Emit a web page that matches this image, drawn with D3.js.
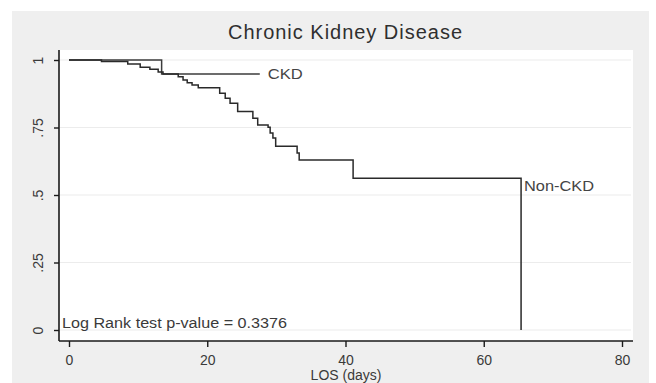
<!DOCTYPE html>
<html>
<head>
<meta charset="utf-8">
<script src="https://cdn.jsdelivr.net/npm/d3@7"></script>
<style>
  html, body { margin: 0; padding: 0; background: #ffffff; }
  svg { display: block; font-family: "Liberation Sans", Arial, sans-serif; }
</style>
</head>
<body>
<svg id="chart" width="656" height="383"></svg>
<script>
// Kaplan-Meier survival estimates by group (time in days, survival proportion)
const nonCkdTimes = [0, 4.7, 8.5, 10.3, 11.7, 12.9, 13.6, 15.8, 16.5, 17.1, 17.8, 18.7, 21.8, 22.6, 23.3, 24.4, 26.6, 27.3, 28.8, 29.1, 29.5, 29.9, 33.0, 33.3, 41.1, 65.4];
const nonCkdSurv  = [1, 0.994, 0.985, 0.973, 0.966, 0.956, 0.948, 0.938, 0.926, 0.916, 0.907, 0.897, 0.877, 0.858, 0.840, 0.809, 0.784, 0.759, 0.751, 0.730, 0.711, 0.681, 0.656, 0.630, 0.562, 0];
const ckdTimes = [0, 13.4, 27.6];
const ckdSurv  = [1, 0.948, 0.948];

const xTicks = [0, 20, 40, 60, 80];
const yTicks = [0, 0.25, 0.5, 0.75, 1];
const yTickLabels = ["0", ".25", ".5", ".75", "1"];

const titleText = "Chronic Kidney Disease";
const xTitle = "LOS (days)";
const pValueText = "Log Rank test p-value = 0.3376";

const svg = d3.select("#chart");
const textColor = "#3a3a3a";
const labelSize = 14;

// outer graph region and plot region
svg.append("rect").attr("x", 12).attr("y", 11).attr("width", 637).attr("height", 372).attr("fill", "#efefef");
svg.append("rect").attr("x", 59).attr("y", 50).attr("width", 574).attr("height", 291).attr("fill", "#ffffff");

const x = d3.scaleLinear().domain([0, 80]).range([69, 622]);
const y = d3.scaleLinear().domain([0, 1]).range([330, 60]);

// horizontal grid
svg.append("g").selectAll("line").data(yTicks).join("line")
  .attr("x1", 60).attr("x2", 631)
  .attr("y1", d => y(d)).attr("y2", d => y(d))
  .attr("stroke", "#ececec").attr("stroke-width", 1.2);

// axes
const yAxis = d3.axisLeft(y).tickValues(yTicks).tickSize(5).tickFormat("");
const gy = svg.append("g").attr("transform", "translate(59,0)").call(yAxis);
gy.select(".domain").attr("d", "M0,50V341").attr("stroke", "#1a1a1a").attr("stroke-width", 1.6);
gy.selectAll(".tick line").attr("stroke", "#1a1a1a").attr("stroke-width", 1.4);

gy.selectAll(".tick").append("text")
  .text((d, i) => yTickLabels[i])
  .attr("transform", "translate(-21,0) rotate(-90)")
  .attr("text-anchor", "middle")
  .attr("dy", "0.35em")
  .attr("fill", textColor)
  .attr("font-size", labelSize);

const xAxis = d3.axisBottom(x).tickValues(xTicks).tickSize(6).tickFormat(d3.format("d"));
const gx = svg.append("g").attr("transform", "translate(0,341)").call(xAxis);
gx.select(".domain").attr("d", "M59,0H633").attr("stroke", "#1a1a1a").attr("stroke-width", 1.6);
gx.selectAll(".tick line").attr("stroke", "#1a1a1a").attr("stroke-width", 1.4);
gx.selectAll(".tick text").attr("fill", textColor).attr("font-size", labelSize)
  .attr("font-family", "'Liberation Sans', Arial, sans-serif").attr("y", 23.5).attr("dy", 0);

// survival curves
const line = d3.line().x(d => x(d[0])).y(d => y(d[1])).curve(d3.curveStepAfter);
const nonCkd = nonCkdTimes.map((t, i) => [t, nonCkdSurv[i]]);
const ckd = ckdTimes.map((t, i) => [t, ckdSurv[i]]);

svg.append("path").datum(ckd).attr("d", line)
  .attr("fill", "none").attr("stroke", "#3c3c3c").attr("stroke-width", 1.5);
svg.append("path").datum(nonCkd).attr("d", line)
  .attr("fill", "none").attr("stroke", "#2a2a2a").attr("stroke-width", 1.5);

// curve labels
svg.append("text").attr("x", x(ckdTimes[ckdTimes.length - 1]) + 8).attr("y", y(ckdSurv[ckdSurv.length - 1]))
  .attr("dy", "0.35em").attr("font-size", labelSize).attr("fill", "#444")
  .attr("textLength", 35).attr("lengthAdjust", "spacingAndGlyphs").text("CKD");
svg.append("text").attr("x", x(nonCkdTimes[nonCkdTimes.length - 1]) + 3).attr("y", y(nonCkdSurv[nonCkdSurv.length - 2]) + 8)
  .attr("dy", "0.35em").attr("font-size", labelSize).attr("fill", "#444")
  .attr("textLength", 70).attr("lengthAdjust", "spacingAndGlyphs").text("Non-CKD");

// titles and annotation
svg.append("text").attr("x", 345).attr("y", 39).attr("text-anchor", "middle")
  .attr("font-size", 20).attr("fill", "#2f2f2f")
  .attr("textLength", 234).attr("lengthAdjust", "spacing").text(titleText);
svg.append("text").attr("x", 346).attr("y", 379.5).attr("text-anchor", "middle")
  .attr("font-size", labelSize).attr("fill", textColor).text(xTitle);
svg.append("text").attr("x", 62).attr("y", 328)
  .attr("font-size", labelSize).attr("fill", textColor)
  .attr("textLength", 225).attr("lengthAdjust", "spacingAndGlyphs").text(pValueText);
</script>
</body>
</html>
